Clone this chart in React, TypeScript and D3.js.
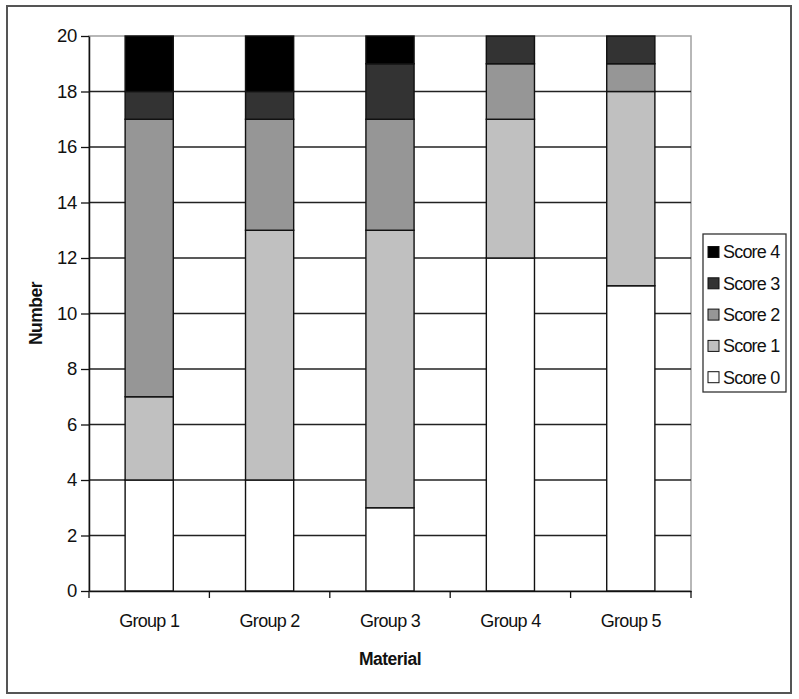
import React, { useEffect, useRef } from "react";
import * as d3 from "d3";

const groups = ["Group 1", "Group 2", "Group 3", "Group 4", "Group 5"];
const scoreKeys = ["Score 0", "Score 1", "Score 2", "Score 3", "Score 4"];
const score0 = [4, 4, 3, 12, 11];
const score1 = [3, 9, 10, 5, 7];
const score2 = [10, 4, 4, 2, 1];
const score3 = [1, 1, 2, 1, 1];
const score4 = [2, 2, 1, 0, 0];
const scoreColors = ["#ffffff", "#c0c0c0", "#969696", "#333333", "#000000"];
const yTicks = [0, 2, 4, 6, 8, 10, 12, 14, 16, 18, 20];

const App = () => {
  const svgRef = useRef(null);

  useEffect(() => {
    const svg = d3.select(svgRef.current);
    svg.selectAll("*").remove();
    const width = 799;
    const height = 699;
    const margin = { top: 36, right: 108, bottom: 108, left: 89 };
    const font = "'Liberation Sans', Arial, sans-serif";

    const rows = groups.map((g, i) => ({
      group: g,
      "Score 0": score0[i],
      "Score 1": score1[i],
      "Score 2": score2[i],
      "Score 3": score3[i],
      "Score 4": score4[i],
    }));
    const stacked = d3.stack().keys(scoreKeys)(rows);

    const x = d3
      .scaleBand()
      .domain(groups)
      .range([margin.left, width - margin.right])
      .paddingInner(0.6)
      .paddingOuter(0.3);

    const y = d3
      .scaleLinear()
      .domain([0, 20])
      .range([height - margin.bottom, margin.top]);

    // outer frame
    svg.append("rect")
      .attr("x", 7)
      .attr("y", 6)
      .attr("width", 784)
      .attr("height", 687)
      .attr("fill", "#fff")
      .attr("stroke", "#555")
      .attr("stroke-width", 2);

    // plot border (top/right grey)
    svg.append("rect")
      .attr("x", margin.left)
      .attr("y", margin.top)
      .attr("width", width - margin.right - margin.left)
      .attr("height", height - margin.bottom - margin.top)
      .attr("fill", "none")
      .attr("stroke", "#a0a0a0")
      .attr("stroke-width", 1.5);

    // gridlines
    svg.append("g")
      .selectAll("line")
      .data(yTicks.filter((t) => t > 0 && t < 20))
      .enter()
      .append("line")
      .attr("x1", margin.left)
      .attr("x2", width - margin.right)
      .attr("y1", (d) => y(d))
      .attr("y2", (d) => y(d))
      .attr("stroke", "#222")
      .attr("stroke-width", 1.3);

    // bars
    svg.append("g")
      .selectAll("g")
      .data(stacked)
      .enter()
      .append("g")
      .attr("fill", (d, i) => scoreColors[i])
      .selectAll("rect")
      .data((d) => d.filter((s) => s[1] - s[0] > 0))
      .enter()
      .append("rect")
      .attr("x", (d) => x(d.data.group))
      .attr("y", (d) => y(d[1]))
      .attr("width", x.bandwidth())
      .attr("height", (d) => y(d[0]) - y(d[1]))
      .attr("stroke", "#111")
      .attr("stroke-width", 1.4);

    // y axis
    const yAxis = svg.append("g")
      .attr("transform", `translate(${margin.left},0)`)
      .call(d3.axisLeft(y).tickValues(yTicks).tickSize(8).tickPadding(4).tickSizeOuter(0));
    yAxis.select(".domain").attr("stroke", "#111").attr("stroke-width", 1.5);
    yAxis.selectAll(".tick line").attr("stroke", "#111").attr("stroke-width", 1.3);
    yAxis.selectAll("text")
      .attr("font-family", font)
      .attr("font-size", 18.5)
      .attr("letter-spacing", -0.3)
      .attr("fill", "#111");

    // x axis
    const xAxis = svg.append("g")
      .attr("transform", `translate(0,${height - margin.bottom})`)
      .call(d3.axisBottom(x).tickSize(0).tickPadding(23).tickSizeOuter(0));
    xAxis.select(".domain").attr("stroke", "#111").attr("stroke-width", 1.5);
    xAxis.selectAll("text")
      .attr("font-family", font)
      .attr("font-size", 18)
      .attr("letter-spacing", -0.7)
      .attr("fill", "#111");
    const step = x.step();
    const bounds = d3.range(groups.length + 1).map((i) => margin.left + i * step);
    xAxis.selectAll(".sep")
      .data(bounds)
      .enter()
      .append("line")
      .attr("x1", (d) => d)
      .attr("x2", (d) => d)
      .attr("y1", 0)
      .attr("y2", 7)
      .attr("stroke", "#111")
      .attr("stroke-width", 1.3);

    // axis titles
    svg.append("text")
      .attr("x", (margin.left + width - margin.right) / 2)
      .attr("y", 665)
      .attr("text-anchor", "middle")
      .attr("font-family", font)
      .attr("font-weight", "bold")
      .attr("font-size", 17.5)
      .attr("letter-spacing", -0.5)
      .attr("fill", "#111")
      .text("Material");

    svg.append("text")
      .attr("transform", `translate(42,${(margin.top + height - margin.bottom) / 2}) rotate(-90)`)
      .attr("text-anchor", "middle")
      .attr("font-family", font)
      .attr("font-weight", "bold")
      .attr("font-size", 17.5)
      .attr("letter-spacing", -0.5)
      .attr("fill", "#111")
      .text("Number");

    // legend
    const legend = svg.append("g");
    legend.append("rect")
      .attr("x", 703)
      .attr("y", 234)
      .attr("width", 83)
      .attr("height", 158)
      .attr("fill", "#fff")
      .attr("stroke", "#333")
      .attr("stroke-width", 1.3);
    const legendKeys = scoreKeys.slice().reverse();
    const item = legend.selectAll(".item")
      .data(legendKeys)
      .enter()
      .append("g")
      .attr("transform", (d, i) => `translate(708,${252 + i * 31.3})`);
    item.append("rect")
      .attr("x", 0)
      .attr("y", -5.5)
      .attr("width", 11)
      .attr("height", 11)
      .attr("fill", (d) => scoreColors[scoreKeys.indexOf(d)])
      .attr("stroke", "#111")
      .attr("stroke-width", 1);
    item.append("text")
      .attr("x", 15)
      .attr("y", 0)
      .attr("dy", "0.35em")
      .attr("font-family", font)
      .attr("font-size", 18)
      .attr("letter-spacing", -0.8)
      .attr("fill", "#111")
      .text((d) => d);
  }, []);

  return (
    <svg
      ref={svgRef}
      width={799}
      height={699}
      style={{ position: "absolute", left: 0, top: 0, background: "#fff" }}
    ></svg>
  );
};

export default App;
